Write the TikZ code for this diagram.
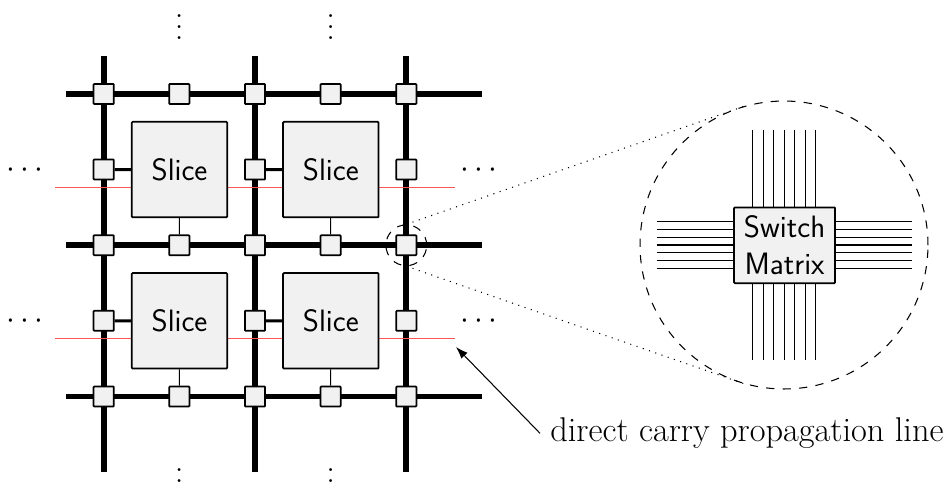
\documentclass[tikz,border=0pt]{standalone}
\usepackage{tikz}
\usepackage{xcolor}
\usetikzlibrary{shapes,arrows.meta,positioning}
\definecolor{cellcolor}{RGB}{241,241,241}
\definecolor{carrycolor}{RGB}{255,85,85}

\begin{document}
\begin{tikzpicture}[
    x=0.02cm, y=-0.02cm,
    wire/.style={line width=3.2pt},
    stub/.style={line width=1.7pt},
    thinwire/.style={line width=0.6pt},
    carry/.style={line width=0.6pt, carrycolor},
    switchbox/.style={rectangle, draw, fill=cellcolor, line width=1pt, rounded corners=0.5pt, minimum size=0.404cm, inner sep=0pt},
    slice/.style={rectangle, draw, fill=cellcolor, line width=1pt, rounded corners=0.5pt, minimum size=1.91cm, inner sep=0pt, font=\fontsize{17.6}{21}\selectfont\sffamily},
    matrix box/.style={slice, minimum width=2.02cm, minimum height=1.516cm, align=center},
    zoomring/.style={circle, draw, line width=0.6pt, dash pattern=on 4.7pt off 4.7pt, inner sep=0pt},
    zoomline/.style={line width=0.6pt, dash pattern=on 0.6pt off 3.15pt},
    hdots/.style={inner sep=0pt, scale=1.8},
    vdots/.style={inner sep=0pt, scale=1.565},
    arrow/.style={-{Latex[length=2.4mm,width=1.7mm]}, line width=0.6pt}
]
\useasboundingbox (0,0) rectangle (944,488);

\foreach \i in {0,1,2} {
    \coordinate (top\i) at (103.7+151.3*\i,56);
    \coordinate (bot\i) at (103.7+151.3*\i,472);
    \coordinate (lft\i) at (66,94+151.25*\i);
    \coordinate (rgt\i) at (482,94+151.25*\i);
    \draw[wire] (top\i) -- (bot\i);
    \draw[wire] (lft\i) -- (rgt\i);
}
\foreach \j in {0,1} {
    \coordinate (cin\j) at (55,187.3+151.3*\j);
    \coordinate (cout\j) at (455,187.3+151.3*\j);
    \draw[carry] (cin\j) -- (cout\j);
}

\foreach \i in {0,1,2} {
    \foreach \j in {0,1,2} {
        \node[switchbox] (x\i\j) at (103.7+151.3*\i,94+151.25*\j) {};
    }
    \foreach \j in {0,1} {
        \node[switchbox] (v\i\j) at (103.7+151.3*\i,169.5+151.25*\j) {};
    }
}
\foreach \i in {0,1} {
    \foreach \j in {0,1,2} {
        \node[switchbox] (h\i\j) at (179.3+151.3*\i,94+151.25*\j) {};
    }
    \foreach \j [count=\k from 1] in {0,1} {
        \node[slice] (s\i\j) at (179.5+151.3*\i,169.6+151.25*\j) {Slice};
        \draw[stub] (v\i\j) -- (s\i\j);
        \draw[thinwire] (s\i\j) -- (h\i\k);
    }
}

\foreach \j in {0,1} {
    \node[hdots] (ldots\j) at (25,170.5+151.25*\j) {$\cdots$};
    \node[hdots] (rdots\j) at (479,170.5+151.25*\j) {$\cdots$};
}
\foreach \i in {0,1} {
    \node[vdots] (tdots\i) at (179.3+151.3*\i,19) {$\vdots$};
    \node[vdots] (bdots\i) at (179.3+151.3*\i,473) {$\vdots$};
}

\node[zoomring, minimum size=0.816cm] (lens) at (x21) {};
\node[zoomring, minimum size=5.76cm] (ring) at (784,245) {};
\draw[zoomline] (lens.north) -- (ring.105);
\draw[zoomline] (lens.south) -- (ring.255);

\foreach \k in {-3,...,3} {
    \coordinate (up\k) at (784.4+10.5*\k,130);
    \coordinate (dn\k) at (784.4+10.5*\k,360);
    \coordinate (we\k) at (656.7,245+7.93*\k);
    \coordinate (ea\k) at (912.3,245+7.93*\k);
    \draw[thinwire] (up\k) -- (dn\k);
    \draw[thinwire] (we\k) -- (ea\k);
}
\node[matrix box] (sm) at (784.6,245.3) {Switch\\Matrix};

\coordinate (carryend) at (456,347);
\node[anchor=base west, inner ysep=0pt, inner xsep=0.2cm, font=\fontsize{19.55}{22}\selectfont] (carrylabel) at (540,441.7) {direct carry propagation line};
\draw[arrow] (carrylabel.west) -- (carryend);
\end{tikzpicture}
\end{document}
